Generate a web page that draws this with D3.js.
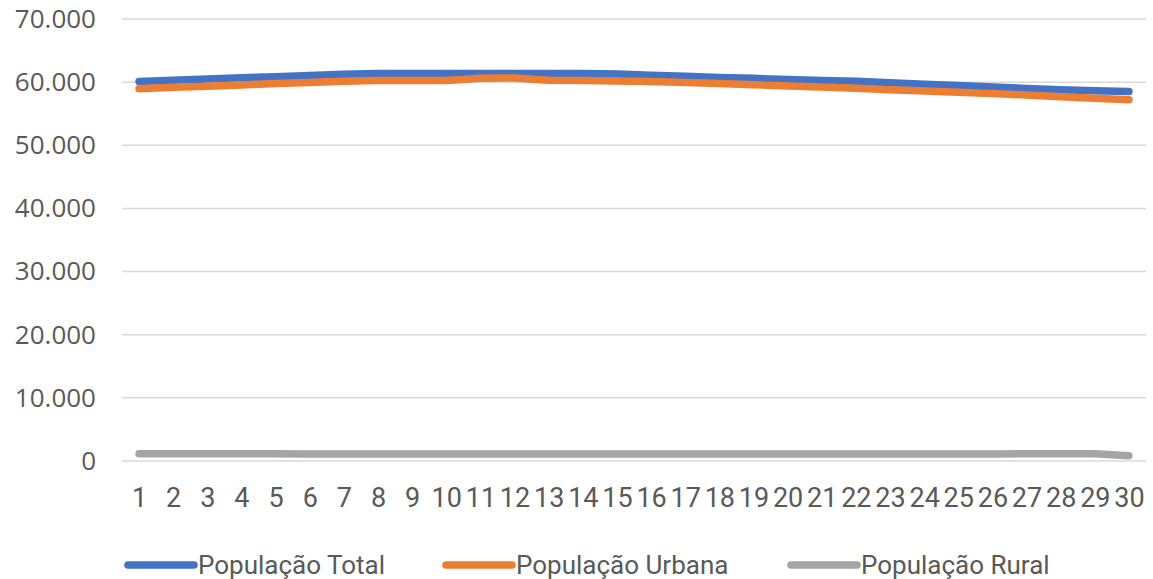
<!DOCTYPE html>
<html>
<head>
<meta charset="utf-8">
<script src="https://cdn.jsdelivr.net/npm/d3@7"></script>
<style>
  html, body { margin: 0; padding: 0; background: #fff; }
  svg { display: block; }
</style>
</head>
<body>
<svg id="chart" width="1153" height="579"></svg>
<script>
const categories = d3.range(1, 31);
const yTicks = [0, 10000, 20000, 30000, 40000, 50000, 60000, 70000];
const seriesNames = ["População Total", "População Urbana", "População Rural"];
const seriesColors = ["#4472c4", "#ed7d31", "#a5a5a5"];
const popTotal = [60100, 60300, 60500, 60700, 60850, 61050, 61250, 61350, 61350, 61350,
                  61350, 61350, 61350, 61350, 61300, 61100, 60950, 60750, 60600, 60400,
                  60250, 60150, 59900, 59650, 59450, 59250, 59000, 58800, 58650, 58500];
const popUrbana = [58950, 59200, 59350, 59550, 59800, 59950, 60150, 60250, 60250, 60250,
                   60600, 60650, 60300, 60250, 60200, 60100, 59950, 59800, 59600, 59400,
                   59250, 59050, 58800, 58600, 58400, 58200, 57950, 57700, 57450, 57200];
const popRural = [1150, 1150, 1150, 1150, 1150, 1100, 1100, 1100, 1100, 1100,
                  1100, 1100, 1100, 1100, 1100, 1100, 1100, 1100, 1100, 1100,
                  1100, 1100, 1100, 1100, 1100, 1100, 1150, 1150, 1150, 850];
const seriesValues = [popTotal, popUrbana, popRural];

const svg = d3.select("#chart");
const x = d3.scalePoint().domain(categories).range([122, 1146]).padding(0.5);
const y = d3.scaleLinear().domain([0, 70000]).range([461, 19]);

const fmt = v => v === 0 ? "0" : d3.format(",")(v).replace(/,/g, ".");

// gridlines
svg.append("g")
  .selectAll("line").data(yTicks).join("line")
  .attr("x1", 122).attr("x2", 1146)
  .attr("y1", d => y(d)).attr("y2", d => y(d))
  .attr("stroke", "#d9d9d9").attr("stroke-width", 1.5);

// y axis labels
const yAxis = d3.axisLeft(y).tickValues(yTicks).tickFormat(fmt).tickSize(0).tickPadding(0);
const gy = svg.append("g").attr("transform", "translate(96,0)").call(yAxis);
gy.select(".domain").remove();
gy.selectAll("text")
  .attr("fill", "#595959")
  .style("font-family", "'Open Sans', sans-serif")
  .style("font-size", "26px");

// x axis labels
const xAxis = d3.axisBottom(x).tickSize(0).tickPadding(0);
const gx = svg.append("g").attr("transform", "translate(0,487)").call(xAxis);
gx.select(".domain").remove();
gx.selectAll("text")
  .attr("fill", "#595959")
  .attr("dy", "0.75em")
  .style("font-family", "Roboto, sans-serif")
  .style("font-size", "27px");

// lines
const line = d3.line().x((d, i) => x(categories[i])).y(d => y(d));
svg.append("g")
  .selectAll("path").data(seriesValues).join("path")
  .attr("d", d => line(d))
  .attr("fill", "none")
  .attr("stroke", (d, i) => seriesColors[i])
  .attr("stroke-width", 7.5)
  .attr("stroke-linecap", "round")
  .attr("stroke-linejoin", "round");

// legend
const legendX = [128, 446, 791];
const lg = svg.append("g").selectAll("g").data(seriesNames).join("g")
  .attr("transform", (d, i) => `translate(${legendX[i]},565)`);
lg.append("line")
  .attr("x1", 0).attr("x2", 66).attr("y1", 0).attr("y2", 0)
  .attr("stroke", (d, i) => seriesColors[i])
  .attr("stroke-width", 7.5)
  .attr("stroke-linecap", "round");
lg.append("text")
  .attr("x", 70).attr("y", 9)
  .attr("fill", "#595959")
  .style("font-family", "Roboto, sans-serif")
  .style("font-size", "26px")
  .text(d => d);
</script>
</body>
</html>
